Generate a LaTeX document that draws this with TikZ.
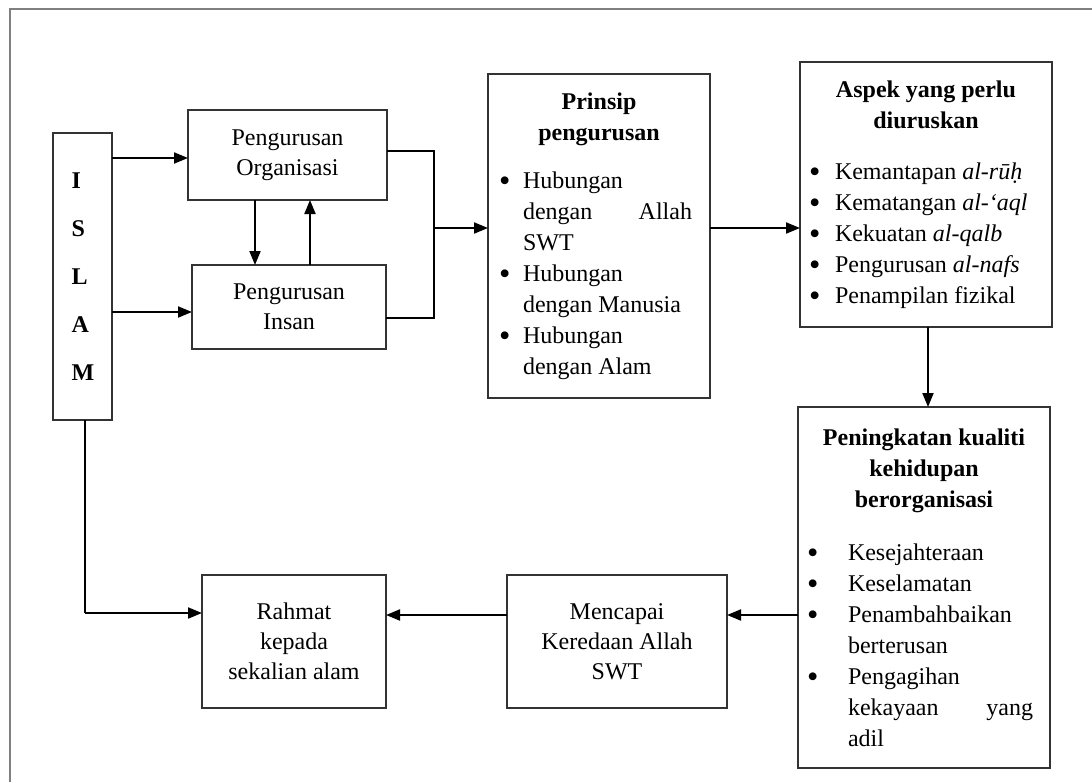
\documentclass[tikz,border=0pt]{standalone}
\usepackage{fontspec}
\usepackage{graphicx}
\setmainfont{Liberation Serif}
\usetikzlibrary{arrows.meta}
\newcommand{\bigbul}{\smash{\raisebox{-3pt}{\scalebox{1.35}{\textbullet}}}}
\newcommand{\bitem}[2]{\par\hangindent=#1\hangafter=1\noindent\makebox[#1][l]{\bigbul}#2\par}
\begin{document}
\begin{tikzpicture}[x=1pt,y=-1pt,
  box/.style={draw=black!80, line width=1.5pt, inner sep=0pt, outer sep=0pt, fill=white,
    font=\fontsize{24}{30}\selectfont},
  listbox/.style={box, align=justify, font=\fontsize{24}{31}\selectfont},
  arr/.style={line width=2pt, -{Triangle[length=14pt,width=11pt]}},
  ln/.style={line width=2pt},
  frame/.style={draw=black!50, line width=2pt}]
\useasboundingbox (0,0) rectangle (1092,782);
\draw[frame] (10,782) -- (10,9) -- (1092,9);

\node[box, minimum width=59pt, minimum height=287pt, text width=22pt, align=left,
  font=\fontsize{24}{48}\selectfont\bfseries] (islam) at (82.5,276.5) {I\\S\\L\\A\\M};
\node[box, minimum width=199pt, minimum height=90pt, align=center] (org) at (287.5,155) {Pengurusan\\Organisasi};
\node[box, minimum width=194pt, minimum height=84pt, align=center] (insan) at (289,307) {Pengurusan\\Insan};

\node[listbox, minimum width=222pt, minimum height=324pt, text width=200pt] (prinsip) at (599,236) {%
{\centering\bfseries Prinsip\\pengurusan\par}
\vspace{17pt}
{\rightskip=7pt
\bitem{24pt}{Hubungan\\dengan\hfill Allah\\SWT}
\bitem{24pt}{Hubungan\\dengan Manusia}
\bitem{24pt}{Hubungan\\dengan Alam}}};

\node[listbox, minimum width=252pt, minimum height=265pt, text width=234pt] (aspek) at (926,194.5) {%
{\centering\bfseries Aspek yang perlu\\diuruskan\par}
\vspace{20pt}
\bitem{26pt}{Kemantapan \textit{al-rūḥ}}
\bitem{26pt}{Kematangan \textit{al-‘aql}}
\bitem{26pt}{Kekuatan \textit{al-qalb}}
\bitem{26pt}{Pengurusan \textit{al-nafs}}
\bitem{26pt}{Penampilan fizikal}};

\node[listbox, minimum width=252pt, minimum height=361pt, text width=234pt] (pen) at (924,587.5) {%
{\centering\bfseries Peningkatan kualiti\\kehidupan\\berorganisasi\par}
\vspace{22pt}
{\rightskip=8pt
\bitem{41pt}{Kesejahteraan}
\bitem{41pt}{Keselamatan}
\bitem{41pt}{Penambahbaikan\\berterusan}
\bitem{41pt}{Pengagihan\\kekayaan\hfill yang\\adil}}};

\node[box, minimum width=220pt, minimum height=133pt, align=center] (menc) at (617,641.5) {Mencapai\\Keredaan Allah\\SWT};
\node[box, minimum width=184pt, minimum height=133pt, align=center] (rahmat) at (294,641.5) {Rahmat\\kepada\\sekalian alam};

% connectors
\draw[arr] (islam.east |- 0,158) -- (org.west |- 0,158);
\draw[arr] (islam.east |- 0,312) -- (insan.west |- 0,312);
\coordinate (d1) at ([xshift=-32.5pt]org.south);
\draw[arr] (d1) -- (d1 |- insan.north);
\coordinate (u1) at ([xshift=21pt]insan.north);
\draw[arr] (u1) -- (u1 |- org.south);
\coordinate (jn) at (434,228);
\coordinate (oe) at ([yshift=4pt]org.east);
\coordinate (ie) at ([yshift=-11pt]insan.east);
\draw[ln] (oe) -- (oe -| jn) -- (ie -| jn) -- (ie);
\draw[arr] (jn) -- (jn -| prinsip.west);
\draw[arr] (prinsip.east |- jn) -- (aspek.west |- jn);
\coordinate (as) at ([xshift=2pt]aspek.south);
\draw[arr] (as) -- (as |- pen.north);
\coordinate (by) at (0,615);
\draw[arr] (pen.west |- by) -- (menc.east |- by);
\draw[arr] (menc.west |- by) -- (rahmat.east |- by);
\coordinate (is) at ([xshift=2.5pt]islam.south);
\draw[ln] (is) -- (is |- 0,613);
\draw[arr] (is |- 0,613) -- (rahmat.west |- 0,613);
\end{tikzpicture}
\end{document}
